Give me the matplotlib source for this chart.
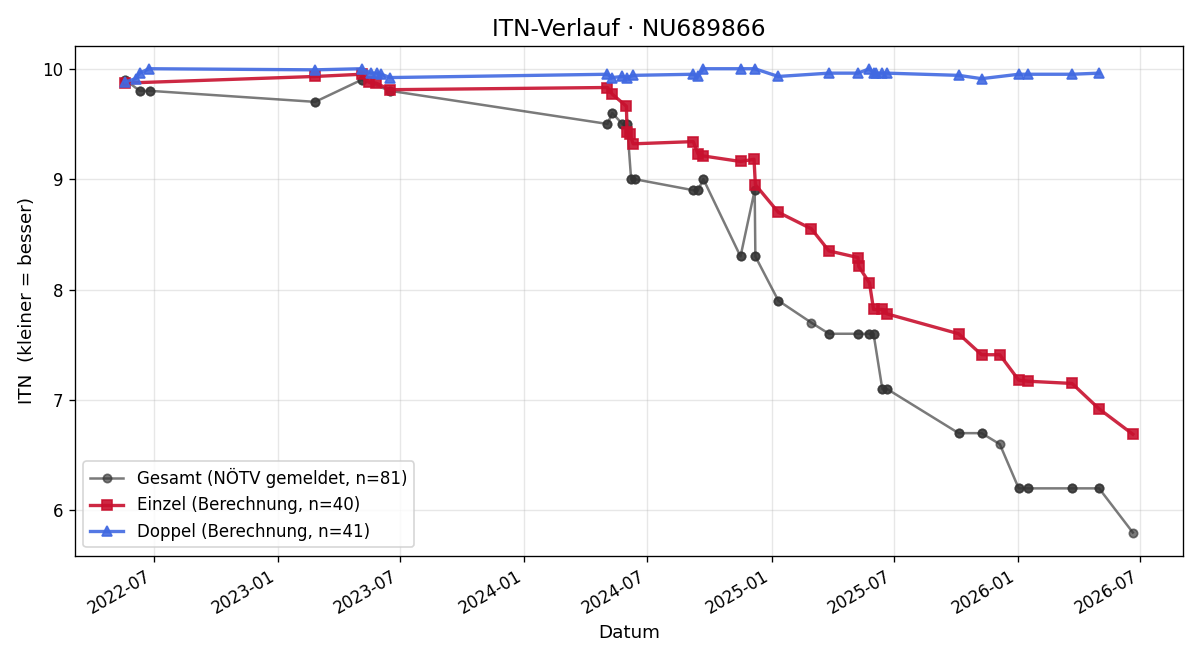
import numpy as np
import pandas as pd
import matplotlib
matplotlib.use("Agg")
import matplotlib.pyplot as plt
import matplotlib.dates as mdates

##- Daten -##
gesamt_dates = ["2022-05-20", "2022-06-10", "2022-06-25", "2023-02-25", "2023-05-05",
                "2023-06-16", "2024-05-03", "2024-05-10", "2024-05-25", "2024-06-01",
                "2024-06-07", "2024-06-12", "2024-09-07", "2024-09-14", "2024-09-22",
                "2024-11-16", "2024-12-07", "2024-12-08", "2025-01-11", "2025-03-01",
                "2025-03-27", "2025-05-09", "2025-05-26", "2025-06-01", "2025-06-14",
                "2025-06-21", "2025-10-05", "2025-11-08", "2025-12-05", "2026-01-02",
                "2026-01-16", "2026-03-22", "2026-05-01", "2026-06-20"]
gesamt_itn = [9.9, 9.8, 9.8, 9.7, 9.9,
              9.8, 9.5, 9.6, 9.5, 9.5,
              9.0, 9.0, 8.9, 8.9, 9.0,
              8.3, 8.9, 8.3, 7.9, 7.7,
              7.6, 7.6, 7.6, 7.6, 7.1,
              7.1, 6.7, 6.7, 6.6, 6.2,
              6.2, 6.2, 6.2, 5.8]
# wie oft der Wert an dem Tag gemeldet wurde (Einzel + Doppel)
gesamt_count = [2, 2, 2, 2, 2,
                2, 2, 2, 2, 2,
                2, 2, 2, 2, 2,
                2, 2, 2, 2, 1,
                2, 2, 2, 2, 2,
                2, 2, 2, 1, 2,
                2, 2, 2, 1]

einzel_dates = ["2022-05-20", "2023-02-25", "2023-05-05", "2023-05-16", "2023-05-26",
                "2023-06-16", "2024-05-03", "2024-05-10", "2024-05-31", "2024-06-01",
                "2024-06-05", "2024-06-10", "2024-09-07", "2024-09-14", "2024-09-22",
                "2024-11-16", "2024-12-06", "2024-12-08", "2025-01-11", "2025-03-01",
                "2025-03-27", "2025-05-09", "2025-05-10", "2025-05-26", "2025-06-01",
                "2025-06-14", "2025-06-21", "2025-10-05", "2025-11-08", "2025-12-05",
                "2026-01-02", "2026-01-16", "2026-03-22", "2026-05-01", "2026-06-20"]
einzel_itn = [9.87, 9.93, 9.95, 9.88, 9.87,
              9.81, 9.83, 9.77, 9.66, 9.43,
              9.41, 9.32, 9.34, 9.23, 9.21,
              9.16, 9.18, 8.95, 8.70, 8.55,
              8.35, 8.29, 8.21, 8.06, 7.82,
              7.82, 7.78, 7.60, 7.41, 7.41,
              7.18, 7.17, 7.15, 6.92, 6.69]

doppel_dates = ["2022-05-20", "2022-06-04", "2022-06-10", "2022-06-24", "2023-02-25",
                "2023-05-05", "2023-05-19", "2023-05-28", "2023-06-03", "2023-06-16",
                "2024-05-03", "2024-05-10", "2024-05-25", "2024-06-01", "2024-06-10",
                "2024-09-07", "2024-09-14", "2024-09-22", "2024-11-16", "2024-12-07",
                "2025-01-11", "2025-03-27", "2025-05-09", "2025-05-26", "2025-06-01",
                "2025-06-05", "2025-06-14", "2025-06-21", "2025-10-05", "2025-11-08",
                "2026-01-02", "2026-01-16", "2026-03-22", "2026-05-01"]
doppel_itn = [9.88, 9.91, 9.96, 10.0, 9.99,
              10.0, 9.96, 9.96, 9.95, 9.92,
              9.95, 9.92, 9.93, 9.92, 9.94,
              9.95, 9.93, 10.0, 10.0, 10.0,
              9.93, 9.96, 9.96, 10.0, 9.96,
              9.96, 9.96, 9.96, 9.94, 9.91,
              9.95, 9.95, 9.95, 9.96]

##- Plot -##
g_x = np.repeat(pd.to_datetime(gesamt_dates), gesamt_count)
g_y = np.repeat(gesamt_itn, gesamt_count)

fig, ax = plt.subplots(figsize=(10, 5.5), dpi=120)
ax.plot(g_x, g_y, color="#333333", alpha=0.65, lw=1.5, marker="o", ms=5,
        label="Gesamt (NÖTV gemeldet, n=81)")
ax.plot(pd.to_datetime(einzel_dates), einzel_itn, color="#C8102E", alpha=0.9, lw=2,
        marker="s", ms=6, label="Einzel (Berechnung, n=40)")
ax.plot(pd.to_datetime(doppel_dates), doppel_itn, color="#4169E1", alpha=0.9, lw=2,
        marker="^", ms=6, label="Doppel (Berechnung, n=41)")

ax.set_title("ITN-Verlauf · NU689866", fontsize=14)
ax.set_xlabel("Datum", fontsize=11)
ax.set_ylabel("ITN  (kleiner = besser)", fontsize=11)
ax.grid(True, alpha=0.3)
ax.legend(loc="lower left", fontsize=10)

ax.xaxis.set_major_locator(mdates.MonthLocator(bymonth=[1, 7]))
ax.xaxis.set_major_formatter(mdates.DateFormatter("%Y-%m"))
fig.autofmt_xdate()
fig.subplots_adjust(left=0.0625, right=0.986, top=0.931, bottom=0.158)

fig.savefig("out.png", dpi=120)
